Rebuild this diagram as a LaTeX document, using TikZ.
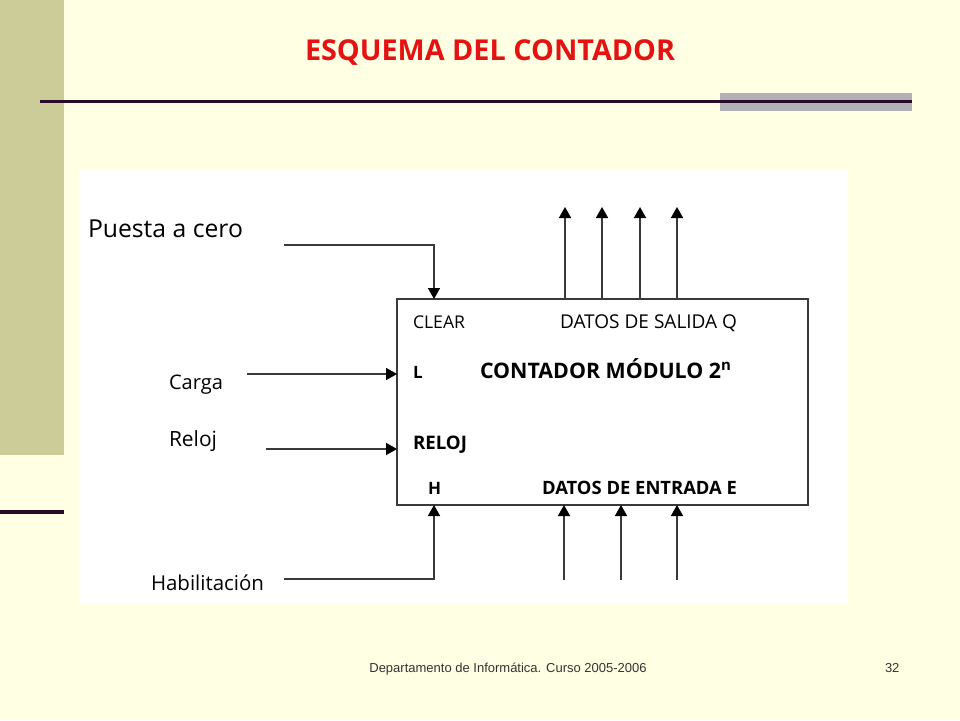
\documentclass[tikz,border=0pt]{standalone}
\usepackage{fontspec}
\setmainfont{Open Sans}
\newfontfamily\footf{Liberation Sans}
\usetikzlibrary{arrows.meta}
\definecolor{bgc}{HTML}{FFFFE3}
\definecolor{olivec}{HTML}{CCCC99}
\definecolor{darkp}{HTML}{2A0A2A}
\definecolor{greyr}{HTML}{B0B0B6}
\definecolor{titred}{HTML}{E41212}
\definecolor{wirec}{HTML}{3A3A3A}
\definecolor{footc}{HTML}{333333}
\newcommand{\fitw}[2]{\resizebox{#1pt}{!}{#2}}
\tikzset{
  lbl/.style={inner sep=0pt, outer sep=0pt, anchor=base west, text=black},
  pinlbl/.style={lbl, font=\bfseries\fontsize{17}{19}\selectfont},
  wire/.style={draw=wirec, line width=1.6pt},
  arr/.style={wire, -{Triangle[length=11pt,width=12pt,color=black]}},
  blockbox/.style={draw=wirec, line width=1.6pt, fill=white, rectangle, inner sep=0pt,
    minimum width=411pt, minimum height=206pt}
}
\begin{document}
\begin{tikzpicture}[x=1pt,y=-1pt]
\useasboundingbox (0,0) rectangle (960,720);
% background
\fill[bgc] (0,0) rectangle (960,720);
\fill[olivec] (0,0) rectangle (64,455);
\fill[darkp] (0,510) rectangle (64,514);
\fill[greyr] (720,93) rectangle (912,111);
\fill[darkp] (40,100) rectangle (912,102.5);
% title
\node[lbl, text=titred, font=\bfseries] (title) at (305,60) {\fitw{370}{ESQUEMA DEL CONTADOR}};
% white panel
\fill[white] (79,169) rectangle (848,604);
% block
\node[blockbox] (box) at (602.5,402) {};
% inner labels
\node[lbl] (clear) at (413,328) {\fitw{52}{CLEAR}};
\node[lbl] (dsal) at (560,328) {\fitw{177}{DATOS DE SALIDA Q}};
\node[pinlbl] (lpin) at (413,378) {L};
\node[lbl, font=\bfseries] (cont) at (480,378) {\fitw{252}{CONTADOR MÓDULO 2\textsuperscript{n}}};
\node[lbl, font=\bfseries] (rpin) at (413,449) {\fitw{54}{RELOJ}};
\node[pinlbl] (hpin) at (428,494) {H};
\node[lbl, font=\bfseries] (dent) at (542,494) {\fitw{195}{DATOS DE ENTRADA E}};
% outer labels
\node[lbl] (puesta) at (88,237) {\fitw{155}{Puesta a cero}};
\node[lbl] (carga) at (169,389) {\fitw{54}{Carga}};
\node[lbl] (reloj) at (169,446) {\fitw{48}{Reloj}};
\node[lbl] (habil) at (151,590) {\fitw{113}{Habilitación}};
% connector points
\coordinate (pz) at (284,245);
\coordinate (clrpin) at (434,299);
\coordinate (cz) at (247,374);
\coordinate (lin) at (397,374);
\coordinate (rz) at (266,449);
\coordinate (rin) at (397,449);
\coordinate (hz) at (284,579);
\coordinate (hin) at (434,505);
\foreach \i/\x in {1/565,2/602,3/640,4/677}{
  \coordinate (qo\i) at (\x,299);
  \coordinate (qt\i) at (\x,207);
  \draw[arr] (qo\i) -- (qt\i);
}
\foreach \i/\x in {1/564,2/621,3/677}{
  \coordinate (eo\i) at (\x,580);
  \coordinate (et\i) at (\x,505);
  \draw[arr] (eo\i) -- (et\i);
}
\draw[arr] (pz) -| (clrpin);
\draw[arr] (cz) -- (lin);
\draw[arr] (rz) -- (rin);
\draw[arr] (hz) -| (hin);
% footer
\node[lbl, text=footc, font=\footf\fontsize{13}{15}\selectfont, anchor=base] (foot) at (508,672) {Departamento de Informática. Curso 2005-2006};
\node[lbl, text=footc, font=\footf\fontsize{13}{15}\selectfont] (pnum) at (885,672) {32};
\end{tikzpicture}
\end{document}
